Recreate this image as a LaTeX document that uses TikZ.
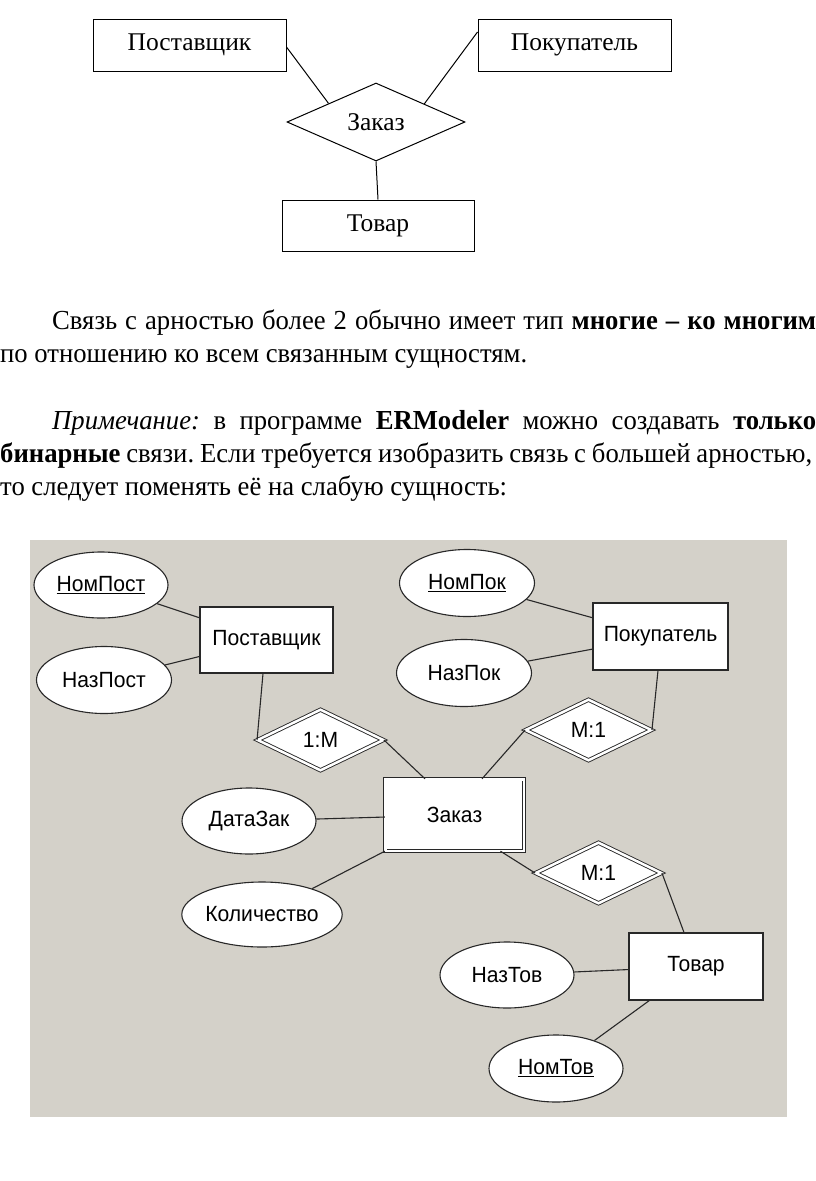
\documentclass[tikz,border=0pt]{standalone}
\usepackage{fontspec}
\setmainfont{Liberation Serif}
\newfontfamily\parafam{Liberation Serif}[FakeStretch=0.97]
\newfontfamily\erfont{Liberation Sans}[FakeStretch=0.96]
\usetikzlibrary{shapes.geometric,calc}
\frenchspacing
\newcommand{\parafont}{\parafam\fontsize{27.5}{33}\selectfont}
\newcommand{\topfont}{\fontsize{25.5}{30}\selectfont}
\newcommand{\bfont}{\erfont\fontsize{22}{26}\selectfont}
\definecolor{panelgray}{RGB}{212,209,201}
\definecolor{edgegray}{RGB}{40,40,40}
\tikzset{
  topent/.style={draw, line width=1pt, minimum width=193pt, minimum height=52pt, inner sep=0pt, font=\topfont},
  toprel/.style={diamond, draw, line width=1pt, minimum width=178pt, minimum height=78pt, aspect=2.28, inner sep=0pt, font=\topfont},
  topline/.style={line width=1pt},
  paraline/.style={anchor=base west, inner sep=0pt, font=\parafont},
  ent/.style={draw=edgegray, fill=white, line width=1.1pt, minimum width=133pt, minimum height=66pt, inner sep=0pt, font=\bfont},
  weakent/.style={draw=edgegray, fill=white, line width=0.9pt, double=white, double distance=2.5pt, minimum width=138.5pt, minimum height=71.5pt, inner sep=0pt, font=\bfont},
  attr/.style={ellipse, draw=edgegray, fill=white, line width=1.1pt, minimum width=134pt, minimum height=66pt, inner sep=0pt, font=\bfont},
  rel/.style={diamond, draw=edgegray, fill=white, line width=0.9pt, double=white, double distance=2.5pt, minimum width=126pt, minimum height=61pt, aspect=2.06, inner sep=0pt, font=\bfont},
  erline/.style={draw=edgegray, line width=1.1pt}
}
\begin{document}
\begin{tikzpicture}[x=1pt,y=-1pt]
\useasboundingbox (0,0) rectangle (816,1181);
\fill[white] (0,0) rectangle (816,1181);

% ---------- top diagram ----------
\node[topent] (sup) at (189.5,45) {Поставщик};
\node[topent] (pok) at (574.5,45) {Покупатель};
\node[toprel] (zak) at (376,122) {Заказ};
\node[topent, minimum height=51pt, minimum width=192pt] (tov) at (378,225.5) {Товар};
\draw[topline] ([yshift=-2pt]sup.east) -- ($(zak.west)!0.47!(zak.north)$);
\draw[topline] ([yshift=13pt]pok.west) -- ($(zak.north)!0.54!(zak.east)$);
\draw[topline] (zak.south) -- (tov.north);

% ---------- paragraph text ----------
\node[paraline] (l1) at (52,329) {\makebox[764pt][s]{Связь с арностью более 2 обычно имеет тип \textbf{многие – ко многим}}};
\node[paraline] (l2) at (0,362) {по отношению ко всем связанным сущностям.};
\node[paraline] (l3) at (52,429) {\makebox[764pt][s]{\textit{Примечание:} в программе \textbf{ERModeler} можно создавать \textbf{только}}};
\node[paraline] (l4) at (0,462) {\makebox[812pt][s]{\textbf{бинарные} связи. Если требуется изобразить связь с большей арностью,}};
\node[paraline] (l5) at (0,495) {то следует поменять её на слабую сущность:};

% ---------- ER diagram ----------
\fill[panelgray] (30,540) rectangle (787,1117);

\node[attr] (nompost) at (101,585) {\underline{НомПост}};
\node[attr, minimum width=135pt, minimum height=67pt] (nazpost) at (104,680) {НазПост};
\node[ent] (post) at (266.5,640) {Поставщик};
\node[rel] (r1) at (320.5,740) {1:M};

\node[attr, minimum width=135pt, minimum height=67pt] (nompok) at (467,583) {\underline{НомПок}};
\node[attr, minimum width=135pt, minimum height=67pt] (nazpok) at (464,673) {НазПок};
\node[ent, minimum width=135pt, minimum height=67pt] (pok2) at (660.5,636.5) {Покупатель};
\node[rel] (r2) at (588.5,730) {M:1};

\node[weakent] (zakaz) at (454.5,815) {Заказ};
\node[attr] (datazak) at (249,821) {ДатаЗак};
\node[attr, minimum height=65pt] (kol) at (262,914.5) {Количество};

\node[rel] (r3) at (598.5,873) {M:1};
\node[ent, minimum width=134pt, minimum height=67pt] (tovar) at (696,966.5) {Товар};
\node[attr] (naztov) at (507,975) {НазТов};
\node[attr, minimum height=67pt] (nomtov) at (556,1068.5) {\underline{НомТов}};

\draw[erline] (nompost) -- (post);
\draw[erline] (nazpost) -- (post);
\draw[erline] ([xshift=-3.5pt]post.south) -- (r1.west);
\draw[erline] (r1.east) -- ([xshift=-29.5pt]zakaz.north);
\draw[erline] (nompok) -- (pok2);
\draw[erline] (nazpok) -- (pok2);
\draw[erline] ([xshift=-2.5pt]pok2.south) -- (r2.east);
\draw[erline] (r2.west) -- ([xshift=27.5pt]zakaz.north);
\draw[erline] (datazak) -- (zakaz);
\draw[erline] (kol) -- (zakaz.south west);
\draw[erline] ([xshift=46pt]zakaz.south) -- (r3.west);
\draw[erline] (r3.east) -- ([xshift=-12pt]tovar.north);
\draw[erline] (naztov) -- (tovar);
\draw[erline] (nomtov) -- (tovar);
\end{tikzpicture}
\end{document}
